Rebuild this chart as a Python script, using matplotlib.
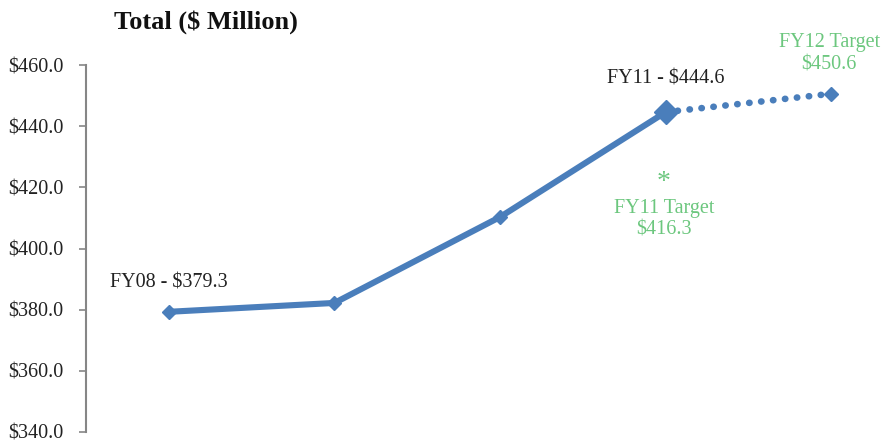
import matplotlib
matplotlib.use("Agg")
import matplotlib.pyplot as plt
from matplotlib.ticker import FuncFormatter

# data
years = ["FY08", "FY09", "FY10", "FY11", "FY12"]
actual = [379.3, 382.2, 410.3, 444.6]     # FY08..FY11
fy11_target = 416.3
fy12_target = 450.6
yticks = [340, 360, 380, 400, 420, 440, 460]

BLUE = "#4A7EBB"
GREEN = "#6CC77E"
plt.rcParams["font.family"] = ["Liberation Serif", "DejaVu Serif"]

fig = plt.figure(figsize=(8.81, 4.42), dpi=100)
ax = fig.add_axes([86/881, 10/442, 795/881, 367/442])

xs = list(range(len(actual)))
ax.plot(xs, actual, color=BLUE, lw=4.4, solid_capstyle="round", zorder=3)
ax.plot(xs[:3], actual[:3], ls="none", marker="D", ms=7, color=BLUE, zorder=4)
ax.plot(xs[3], actual[3], ls="none", marker="D", ms=12, color=BLUE, zorder=4)
ax.plot([3, 4], [actual[3], fy12_target], color=BLUE, lw=4.8,
        ls=(0, (0.05, 1.75)), dash_capstyle="round", zorder=3)
ax.plot(4, fy12_target, ls="none", marker="D", ms=7, color=BLUE, zorder=4)

ax.set_xlim(-0.5, 4.30)
ax.set_ylim(340, 460)
ax.set_yticks(yticks)
ax.yaxis.set_major_formatter(FuncFormatter(lambda v, p: f"${v:.1f}"))
ax.set_xticks([])
for s in ["top", "right", "bottom"]:
    ax.spines[s].set_visible(False)
ax.spines["left"].set_color("#868686")
ax.spines["left"].set_linewidth(1.5)
ax.tick_params(axis="y", direction="out", length=5, width=1.2, color="#868686",
               labelsize=14.5, labelcolor="#222222", pad=11)

ax.annotate(f"FY08 - ${actual[0]:.1f}", (0, actual[0]), xytext=(0, 29),
            textcoords="offset pixels", ha="center", va="center", fontsize=14.5, color="#222222")
ax.annotate(f"FY11 - ${actual[3]:.1f}", (3, actual[3]), xytext=(0, 33),
            textcoords="offset pixels", ha="center", va="center", fontsize=14.5, color="#222222")
ax.annotate("*", (3, actual[3]), xytext=(-2, -70),
            textcoords="offset pixels", ha="center", va="center", fontsize=20, color=GREEN)
ax.annotate(f"FY11 Target\n${fy11_target:.1f}", (3, actual[3]), xytext=(-2, -107),
            textcoords="offset pixels", ha="center", va="center", fontsize=14.5,
            color=GREEN, linespacing=1.2)
ax.annotate(f"FY12 Target\n${fy12_target:.1f}", (4, fy12_target), xytext=(-2, 40),
            textcoords="offset pixels", ha="center", va="center", fontsize=14.5,
            color=GREEN, linespacing=1.2)

fig.text(206/881, 1 - 22/442, "Total ($ Million)", ha="center", va="center",
         fontsize=19, fontweight="bold", color="#111111")

fig.savefig("out.png", dpi=100)
